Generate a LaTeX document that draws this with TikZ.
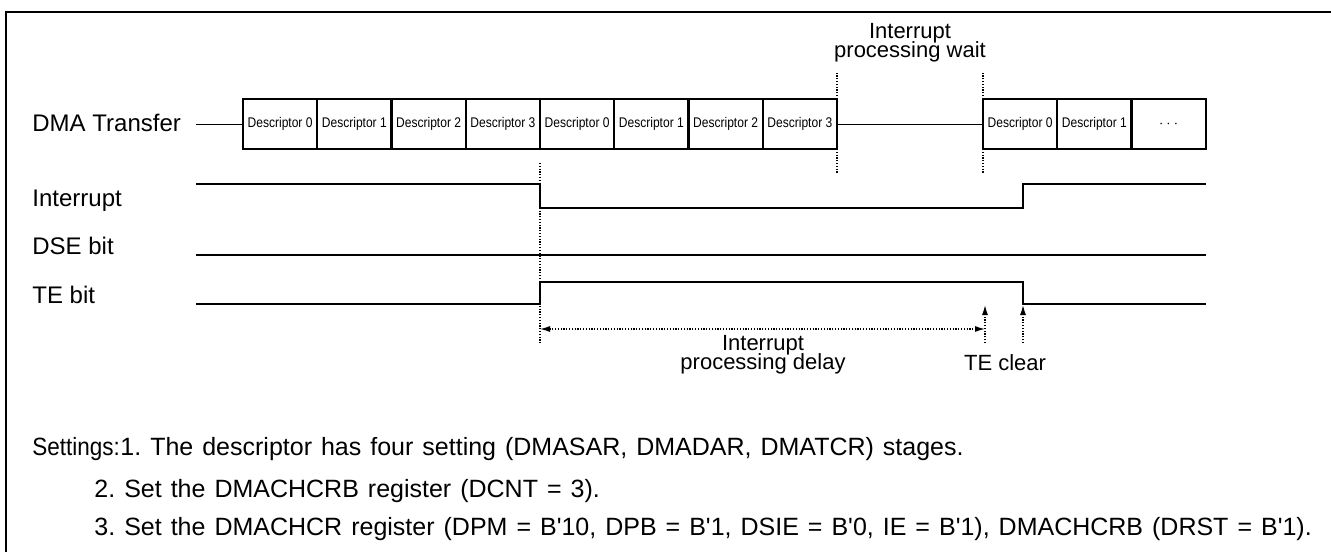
\documentclass[tikz,border=0pt]{standalone}
\usepackage{fontspec}
\setmainfont{Liberation Sans}
\newfontfamily\descfont[FakeStretch=0.86]{Liberation Sans}
\newfontfamily\headfont[FakeStretch=0.9]{Liberation Sans}
\usepackage{tikz}
\usetikzlibrary{positioning,arrows.meta}

\tikzset{
  desc/.style={draw, line width=1.2pt, minimum width=37.125pt, minimum height=25pt,
    inner sep=0pt, outer sep=0pt, font=\descfont\fontsize{7}{8}\selectfont},
  lbl/.style={anchor=base west, inner sep=0pt, font=\fontsize{12}{14}\selectfont},
  twoline/.style={align=center, inner sep=0pt,
    font={\fontsize{11}{9.5}\selectfont\setlength{\lineskiplimit}{-10pt}}},
  note/.style={anchor=base west, inner sep=0pt,
    font={\fontsize{12.5}{14}\selectfont\frenchspacing\setlength{\spaceskip}{4.5pt}}},
  sig/.style={line width=1.3pt},
  wire/.style={line width=0.5pt},
  guide/.style={line width=0.6pt, dash pattern=on 0.6pt off 0.8pt},
  >={Latex[length=5pt,width=3pt]}
}
\newcommand{\sq}{\textquotesingle}

\begin{document}
\begin{tikzpicture}[x=0.5pt,y=-0.5pt]
				\useasboundingbox (0,0) rectangle (1331,551);
				\clip (0,0) rectangle (1331,551);
				% outer frame
				\draw[line width=1pt] (6,12) rectangle (1345,570);
				
				% signal names
				\node[lbl] (dma) at (32,132) {DMA Transfer};
				\node[lbl] (intr) at (32,206) {Interrupt};
				\node[lbl] (dse) at (32,254) {DSE bit};
				\node[lbl] (te) at (32,303) {TE bit};
				
				% descriptor chain
				\node[desc] (a0) at (280.1,124) {Descriptor 0};
				\foreach \i/\k [count=\j from 0] in {1/1,2/2,3/3,4/0,5/1,6/2,7/3}
					\node[desc, right=0pt of a\j] (a\i) {Descriptor \k};
				\node[desc] (b0) at (1020.1,124) {Descriptor 0};
				\node[desc, right=0pt of b0] (b1) {Descriptor 1};
				\node[desc, right=0pt of b1] (b2) {$\cdots$};
				
				\coordinate (dmaout) at (196,124);
				\draw[wire] (dmaout) -- (a0.west);
				\draw[wire] (a7.east) -- (b0.west);
				
				% wait markers
				\draw[guide] (a7.north east) -- ++(0,-27);
				\draw[guide] (a7.south east) -- ++(0,24);
				\draw[guide] (b0.north west) -- ++(0,-27);
				\draw[guide] (b0.south west) -- ++(0,24);
				\node[twoline] (wait) at (910,43) {Interrupt\\processing wait};
				
				% levels
				\draw[sig] (196,184) -- (540,184) -- (540,208) -- (1023,208) -- (1023,184) -- (1206,184);
				\draw[sig] (196,255) -- (1206,255);
				\draw[sig] (196,304) -- (540,304) -- (540,282) -- (1023,282) -- (1023,304) -- (1206,304);
				
				% delay and clear
				\draw[guide] (540,163) -- (540,343);
				\coordinate (dl) at (540,329);
				\coordinate (dr) at (985,329);
				\draw[guide, <->] (dl) -- (dr);
				\coordinate (c1) at (985,343);
				\coordinate (c1t) at (985,305);
				\coordinate (c2) at (1023,343);
				\coordinate (c2t) at (1023,305);
				\draw[guide, ->] (c1) -- (c1t);
				\draw[guide, ->] (c2) -- (c2t);
				\node[twoline] (delay) at (763,355) {Interrupt\\processing delay};
				\node[twoline, anchor=base] (clr) at (1005,370) {TE clear};
				
				% settings
				\node[note, font=\headfont\fontsize{12.5}{14}\selectfont] (set0) at (32,455) {Settings:};
				\node[note] (set1) at (120,455) {1. The descriptor has four setting (DMASAR, DMADAR, DMATCR) stages.};
				\node[note] (set2) at (94,497) {2. Set the DMACHCRB register (DCNT = 3).};
				\node[note] (set3) at (94,535) {3. Set the DMACHCR register (DPM = B\sq 10, DPB = B\sq 1, DSIE = B\sq 0, IE = B\sq 1), DMACHCRB (DRST = B\sq 1).};
			\end{tikzpicture}
\end{document}
